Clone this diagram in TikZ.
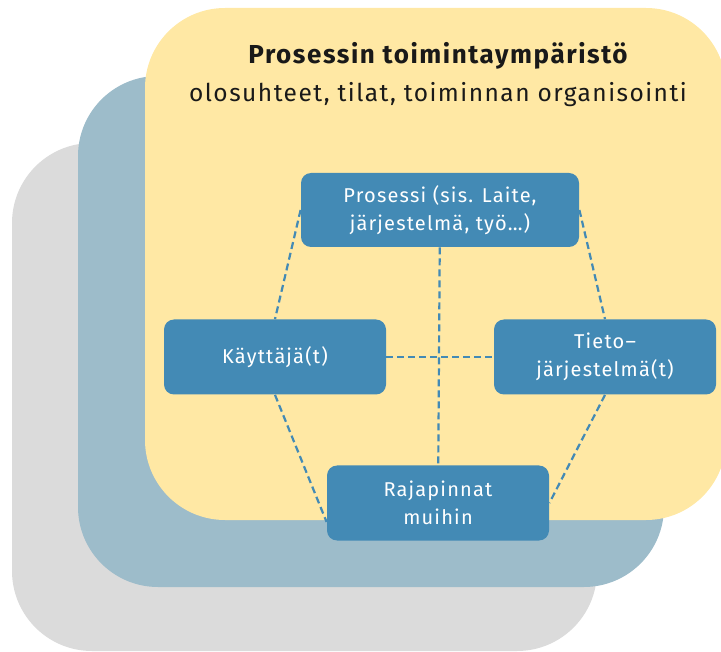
\documentclass[tikz,border=0pt]{standalone}
\usepackage{fontspec}
\setmainfont{Fira Sans}[LetterSpace=6]
\usetikzlibrary{positioning}
\definecolor{envyellow}{HTML}{FFE8A4}
\definecolor{envblue}{HTML}{9DBCCA}
\definecolor{envgray}{HTML}{DBDBDB}
\definecolor{boxblue}{HTML}{438AB5}

\begin{document}
\begin{tikzpicture}[x=1pt, y=-1pt, thick]
 \tikzstyle{layer} = [rounded corners=80pt]
 \tikzstyle{block} = [rectangle, rounded corners=10pt, fill=boxblue, text=white, minimum width=222pt, minimum height=75pt, align=center, font=\fontsize{20}{28}\selectfont]
 \tikzstyle{link} = [draw=boxblue, line width=2.2pt, dash pattern=on 7pt off 4pt]
 \useasboundingbox (0,0) rectangle (721,652);
 \clip (0,0) rectangle (721,652);
 % three layers of the environment
 \fill[layer, envgray] (12,143) rectangle (597,651);
 \fill[layer, envblue] (78,76) rectangle (664,587);
 \fill[layer, envyellow] (145,8) rectangle (726,520);

 \node[align=center, text=black!90, font=\fontsize{24.5}{38}\selectfont] (title) at (438,75)
   {{\fontsize{26}{38}\selectfont\bfseries Prosessin toimintaympäristö}\\olosuhteet, tilat, toiminnan organisointi};

   \node[block, minimum width=278pt, minimum height=74pt] (P) at (440,210) {Prosessi (sis. Laite,\\järjestelmä, työ…)};
   \node[block] (K) at (275,357) {Käyttäjä(t)};
   \node[block] (T) at (605,357) {Tieto–\\järjestelmä(t)};
   \node[block] (R) at (438,503) {Rajapinnat\\muihin};

 \path[link]
	(P) edge (R)
	(K) edge (T)
	(P.west) edge (K.north)
	(P.east) edge (T.north)
	(K.south) edge ([yshift=-19pt]R.west)
	(T.south) edge (R.east);
  \end{tikzpicture}
\end{document}
